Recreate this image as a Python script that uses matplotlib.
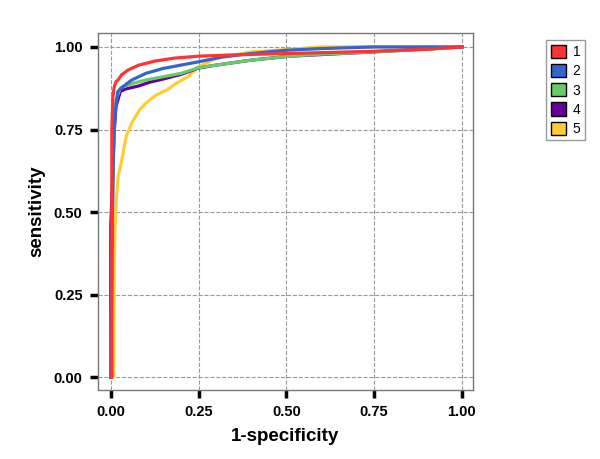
import matplotlib.pyplot as plt
from matplotlib.patches import Patch

plt.rcParams['font.family'] = ['Liberation Sans', 'DejaVu Sans']

# ROC curves
fpr_1 = [0, 0.003, 0.003, 0.006, 0.01, 0.015, 0.021, 0.03, 0.049, 0.08, 0.125, 0.18, 0.25, 0.35, 0.5, 0.65, 0.75, 0.9, 1.0]
tpr_1 = [0, 0, 0.75, 0.85, 0.88, 0.895, 0.90, 0.915, 0.93, 0.945, 0.957, 0.966, 0.972, 0.976, 0.98, 0.984, 0.987, 0.993, 1.0]

fpr_2 = [0, 0.004, 0.008, 0.012, 0.02, 0.035, 0.06, 0.1, 0.15, 0.2, 0.25, 0.32, 0.4, 0.5, 0.6, 0.75, 1.0]
tpr_2 = [0, 0.45, 0.7, 0.8, 0.865, 0.88, 0.9, 0.92, 0.935, 0.945, 0.955, 0.97, 0.98, 0.99, 0.995, 1.0, 1.0]

fpr_3 = [0, 0.006, 0.01, 0.015, 0.027, 0.064, 0.1, 0.13, 0.2, 0.25, 0.3, 0.4, 0.51, 0.6, 0.75, 0.9, 1.0]
tpr_3 = [0, 0.6, 0.78, 0.84, 0.876, 0.89, 0.9, 0.906, 0.92, 0.937, 0.945, 0.96, 0.972, 0.978, 0.985, 0.993, 1.0]

fpr_4 = [0, 0, 0.005, 0.01, 0.015, 0.027, 0.04, 0.06, 0.08, 0.11, 0.15, 0.2, 0.25, 0.3, 0.4, 0.51, 0.75, 1.0]
tpr_4 = [0, 0.46, 0.6, 0.75, 0.82, 0.865, 0.872, 0.877, 0.882, 0.893, 0.903, 0.917, 0.936, 0.945, 0.96, 0.972, 0.985, 1.0]

fpr_5 = [0, 0.008, 0.01, 0.012, 0.016, 0.021, 0.03, 0.044, 0.06, 0.082, 0.1, 0.13, 0.16, 0.187, 0.22, 0.25, 0.3, 0.35, 0.4, 0.5, 0.6, 0.75, 1.0]
tpr_5 = [0, 0.0, 0.34, 0.45, 0.54, 0.61, 0.65, 0.73, 0.77, 0.81, 0.83, 0.855, 0.87, 0.89, 0.91, 0.94, 0.965, 0.975, 0.985, 0.992, 1.0, 1.0, 1.0]

labels = ['1', '2', '3', '4', '5']
colors = ['#ff3333', '#3366cc', '#66cc66', '#660099', '#ffcc33']
ticks = [0.0, 0.25, 0.5, 0.75, 1.0]

fig = plt.figure(figsize=(6, 4.59), dpi=100)
ax = fig.add_axes([0.163, 0.150, 0.625, 0.778])

# draw order: yellow, purple, green, blue, red (red on top)
curves = [(fpr_1, tpr_1), (fpr_2, tpr_2), (fpr_3, tpr_3), (fpr_4, tpr_4), (fpr_5, tpr_5)]
order = [4, 3, 2, 1, 0]
for z, i in enumerate(order):
    ax.plot(curves[i][0], curves[i][1], color=colors[i], lw=2.3, zorder=3 + z)

ax.set_xlim(-0.037, 1.031)
ax.set_ylim(-0.039, 1.042)
ax.set_xticks(ticks)
ax.set_yticks(ticks)
ax.set_xticklabels([f'{t:.2f}' for t in ticks], fontsize=10.5, fontweight='bold')
ax.set_yticklabels([f'{t:.2f}' for t in ticks], fontsize=10.5, fontweight='bold')
ax.tick_params(length=6, width=2.5, color='black', pad=5)
ax.grid(True, linestyle='--', color='#999999', lw=0.8)
for s in ax.spines.values():
    s.set_color('#777777')
    s.set_linewidth(1)

ax.set_xlabel('1-specificity', fontsize=13.5, fontweight='bold', labelpad=6)
ax.set_ylabel('sensitivity', fontsize=13.5, fontweight='bold', labelpad=6)

handles = [Patch(facecolor=c, edgecolor='black', lw=1) for c in colors]
leg = fig.legend(handles, labels, loc='upper left', bbox_to_anchor=(0.899, 0.927),
                 fontsize=10, handlelength=1.1, handleheight=1.1, handletextpad=0.5,
                 borderpad=0.3, labelspacing=0.35, fancybox=False, framealpha=1)
leg.get_frame().set_edgecolor('#999999')

fig.savefig('out.png', dpi=100)
